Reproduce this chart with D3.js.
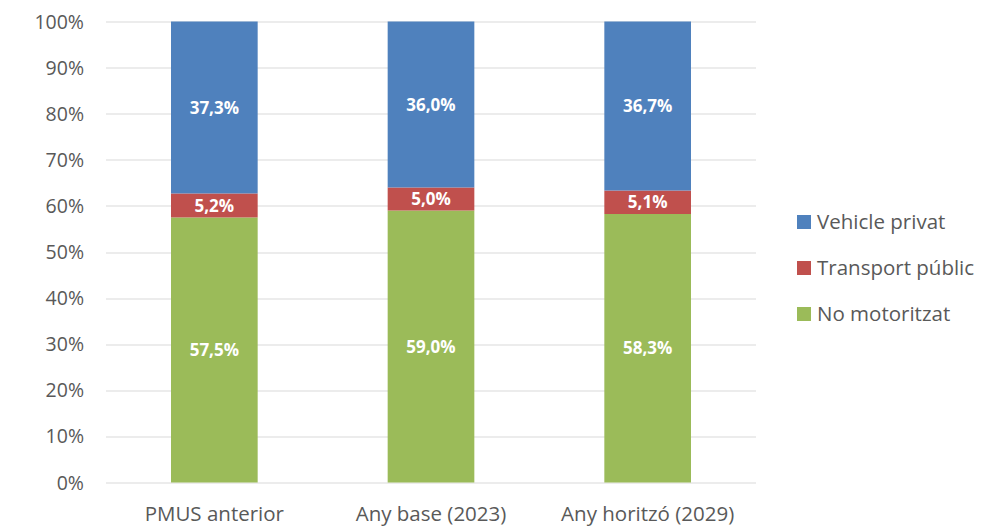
<!DOCTYPE html>
<html>
<head>
<meta charset="utf-8">
<script src="https://cdn.jsdelivr.net/npm/d3@7"></script>
<style>
  body { margin: 0; background: #fff; }
  text { font-family: "Open Sans", Lato, sans-serif; }
</style>
</head>
<body>
<svg id="chart" width="988" height="528"></svg>
<script>
var categories = ['PMUS anterior', 'Any base (2023)', 'Any horitzó (2029)'];
var seriesNames = ['No motoritzat', 'Transport públic', 'Vehicle privat'];
var noMotoritzat = [57.5, 59.0, 58.3];
var transportPublic = [5.2, 5.0, 5.1];
var vehiclePrivat = [37.3, 36.0, 36.7];
var yTicks = [0, 0.1, 0.2, 0.3, 0.4, 0.5, 0.6, 0.7, 0.8, 0.9, 1];
var colors = ['#9BBB59', '#C0504D', '#4F81BD'];

var rows = categories.map(function(c, i) {
  return {
    cat: c,
    'No motoritzat': noMotoritzat[i],
    'Transport públic': transportPublic[i],
    'Vehicle privat': vehiclePrivat[i]
  };
});

var margin = {left: 106, right: 232, top: 21.5, bottom: 45.5};
var width = 988 - margin.left - margin.right;
var height = 528 - margin.top - margin.bottom;

var svg = d3.select('#chart');
var g = svg.append('g').attr('transform', 'translate(' + margin.left + ',' + margin.top + ')');

var x = d3.scaleBand().domain(categories).range([0, width]).paddingInner(0.6).paddingOuter(0.3);
var y = d3.scaleLinear().domain([0, 1]).range([height, 0]);

var stack = d3.stack().keys(seriesNames).offset(d3.stackOffsetExpand);
var stacked = stack(rows);

// gridlines
g.selectAll('line.grid')
  .data(yTicks)
  .enter()
  .append('line')
  .attr('class', 'grid')
  .attr('x1', 0)
  .attr('x2', width)
  .attr('y1', function(d) { return Math.round(y(d)) + 0.5; })
  .attr('y2', function(d) { return Math.round(y(d)) + 0.5; })
  .attr('stroke', '#d9d9d9')
  .attr('stroke-width', 1);

// y labels
g.selectAll('text.ytick')
  .data(yTicks)
  .enter()
  .append('text')
  .attr('class', 'ytick')
  .attr('x', -22)
  .attr('y', function(d) { return y(d); })
  .attr('dy', '0.36em')
  .attr('text-anchor', 'end')
  .attr('font-size', 19.5)
  .attr('fill', '#595959')
  .text(function(d) { return Math.round(d * 100) + '%'; });

// bars
var layers = g.selectAll('g.layer')
  .data(stacked)
  .enter()
  .append('g')
  .attr('class', 'layer')
  .attr('fill', function(d, i) { return colors[i]; });

layers.selectAll('rect')
  .data(function(d) { return d; })
  .enter()
  .append('rect')
  .attr('x', function(d) { return x(d.data.cat); })
  .attr('width', x.bandwidth())
  .attr('y', function(d) { return y(d[1]); })
  .attr('height', function(d) { return y(d[0]) - y(d[1]); });

// data labels
layers.selectAll('text')
  .data(function(d) {
    return d.map(function(p) { return {p: p, key: d.key}; });
  })
  .enter()
  .append('text')
  .attr('x', function(d) { return x(d.p.data.cat) + x.bandwidth() / 2; })
  .attr('y', function(d) { return (y(d.p[0]) + y(d.p[1])) / 2; })
  .attr('dy', '0.36em')
  .attr('text-anchor', 'middle')
  .attr('font-size', 17)
  .attr('font-weight', 'bold')
  .attr('fill', '#fff')
  .text(function(d) { return d.p.data[d.key].toFixed(1).replace('.', ',') + '%'; });

// category labels
g.selectAll('text.xtick')
  .data(categories)
  .enter()
  .append('text')
  .attr('class', 'xtick')
  .attr('x', function(d) { return x(d) + x.bandwidth() / 2; })
  .attr('y', height + 38)
  .attr('text-anchor', 'middle')
  .attr('font-size', 20.5)
  .attr('fill', '#595959')
  .text(function(d) { return d; });

// legend, top to bottom reversed
var legendItems = seriesNames.slice().reverse();
var legend = svg.append('g').attr('transform', 'translate(797,222)');
var item = legend.selectAll('g')
  .data(legendItems)
  .enter()
  .append('g')
  .attr('transform', function(d, i) { return 'translate(0,' + (i * 46) + ')'; });
item.append('rect')
  .attr('x', 0)
  .attr('y', -7)
  .attr('width', 14)
  .attr('height', 14)
  .attr('fill', function(d) { return colors[seriesNames.indexOf(d)]; });
item.append('text')
  .attr('x', 20)
  .attr('y', 0)
  .attr('dy', '0.36em')
  .attr('font-size', 20.5)
  .attr('fill', '#595959')
  .text(function(d) { return d; });
</script>
</body>
</html>
